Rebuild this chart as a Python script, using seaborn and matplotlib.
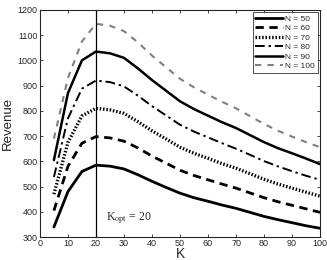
import matplotlib
matplotlib.use("Agg")
import matplotlib.pyplot as plt
import seaborn as sns
import pandas as pd

sns.set_theme(style="ticks")
plt.rcParams["font.family"] = ["Liberation Sans", "DejaVu Sans"]
plt.rcParams["mathtext.fontset"] = "stix"

k_values = [5, 10, 15, 20, 25, 30, 35, 40, 45, 50, 55, 60, 65, 70, 75, 80, 85, 90, 95, 100]
rev_n50 = [340, 480, 560, 585, 581, 570, 547, 521, 497, 474, 456, 442, 427, 414, 398, 382, 369, 357, 345, 335]
rev_n60 = [405, 580, 672, 698, 693, 680, 653, 621, 593, 565, 544, 527, 510, 494, 475, 456, 440, 426, 412, 398]
rev_n70 = [470, 675, 780, 810, 804, 790, 757, 721, 689, 656, 632, 612, 591, 573, 551, 529, 510, 494, 478, 462]
rev_n80 = [538, 770, 888, 920, 914, 897, 860, 819, 782, 745, 718, 695, 672, 650, 626, 601, 580, 561, 543, 527]
rev_n90 = [605, 870, 1000, 1035, 1028, 1010, 968, 922, 880, 838, 807, 781, 755, 732, 704, 676, 652, 632, 611, 589]
rev_n100 = [690, 930, 1075, 1145, 1137, 1116, 1071, 1019, 973, 927, 893, 864, 836, 810, 779, 748, 721, 698, 676, 656]

series = {
    "N = 50": rev_n50,
    "N = 60": rev_n60,
    "N = 70": rev_n70,
    "N = 80": rev_n80,
    "N = 90": rev_n90,
    "N = 100": rev_n100,
}

# line look per series: colour, width, dash pattern
styles = {
    "N = 50": ("black", 2.0, None),
    "N = 60": ("black", 2.0, (3, 2)),
    "N = 70": ("black", 2.4, (0.45, 0.55)),
    "N = 80": ("black", 1.4, (5, 2, 1.2, 2)),
    "N = 90": ("black", 1.8, None),
    "N = 100": ("#808080", 1.5, (3, 3)),
}

df = pd.concat([pd.DataFrame({"K": k_values, "Revenue": v, "N": name}) for name, v in series.items()])

fig = plt.figure(figsize=(3.27, 2.60), dpi=100)
ax = fig.add_axes([0.122, 0.088, 0.857, 0.874])

for name in series:
    color, lw, dash = styles[name]
    sub = df[df["N"] == name]
    sns.lineplot(data=sub, x="K", y="Revenue", ax=ax, color=color, linewidth=lw, label=name)
    if dash is not None:
        ax.lines[-1].set_dashes(dash)

ax.axvline(20, color="black", linewidth=0.9)
ax.text(23.5, 365, r"K$_{\mathrm{opt}}$ = 20", fontsize=8.5, family="Liberation Serif")

ax.set_xlim(0, 100)
ax.set_ylim(300, 1200)
ax.set_xticks(range(0, 101, 10))
ax.set_yticks(range(300, 1201, 100))
ax.tick_params(direction="in", top=True, right=True, labelsize=6.5, length=2.5, width=0.6, pad=1.5)
for s in ax.spines.values():
    s.set_linewidth(0.8)
ax.set_xlabel("K", fontsize=10, labelpad=-1)
ax.set_ylabel("Revenue", fontsize=9.5, labelpad=3)

leg = ax.legend(loc="upper right", fontsize=6, frameon=True, fancybox=False, edgecolor="black",
                handlelength=3.3, handletextpad=0.3, borderpad=0.3, labelspacing=0.2, borderaxespad=0.3)
leg.get_frame().set_linewidth(0.6)

fig.savefig("out.png", dpi=100)
